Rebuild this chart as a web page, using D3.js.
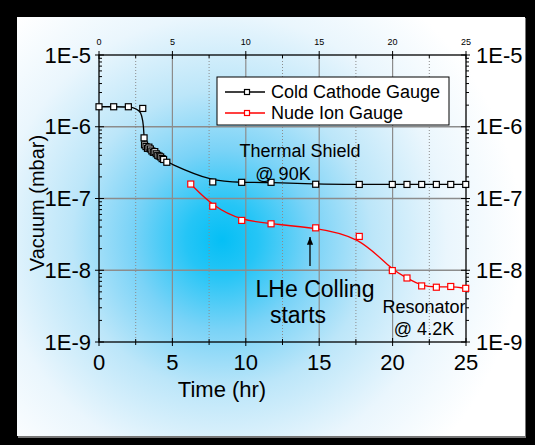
<!DOCTYPE html>
<meta charset="utf-8">
<script src="https://d3js.org/d3.v7.min.js"></script>
<style>
  body { margin: 0; background: #000; overflow: hidden; }
  svg { display: block; }
  text { font-family: "Liberation Sans", Arial, sans-serif; }
</style>
<svg id="chart" width="535" height="445"></svg>
<script>
// data (time in hr, pressure in mbar)
var ccgTime = [0, 1, 2, 2.98, 3.07, 3.1, 3.2, 3.3, 3.4, 3.5, 3.6, 3.7, 3.8, 3.9, 4.0, 4.1, 4.2, 4.3, 4.4, 4.62,
               7.75, 9.72, 11.72, 14.76, 17.73, 19.98, 20.98, 21.98, 22.98, 23.96, 24.98];
var ccgVac  = [1.9e-6, 1.9e-6, 1.9e-6, 1.8e-6, 7.0e-7, 5.6e-7, 5.3e-7, 5.0e-7, 5.2e-7, 4.9e-7, 4.6e-7, 4.4e-7, 4.5e-7, 4.2e-7, 4.0e-7, 3.9e-7, 3.8e-7, 3.6e-7, 3.5e-7, 3.2e-7,
               1.7e-7, 1.68e-7, 1.68e-7, 1.58e-7, 1.57e-7, 1.57e-7, 1.57e-7, 1.57e-7, 1.57e-7, 1.57e-7, 1.57e-7];
var nigTime = [6.25, 7.75, 9.72, 11.72, 14.76, 17.73, 19.98, 20.98, 21.98, 22.98, 23.96, 24.98];
var nigVac  = [1.59e-7, 7.8e-8, 4.95e-8, 4.44e-8, 3.9e-8, 2.96e-8, 9.9e-9, 7.8e-9, 6.05e-9, 5.8e-9, 5.94e-9, 5.6e-9];

var xTicks = [0, 5, 10, 15, 20, 25];
var xMinor = [2.5, 7.5, 12.5, 17.5, 22.5];
var yTicks = [1e-5, 1e-6, 1e-7, 1e-8, 1e-9];
var yLabels = ["1E-5", "1E-6", "1E-7", "1E-8", "1E-9"];

var svg = d3.select("#chart");
var pLeft = 99, pRight = 466, pTop = 55, pBottom = 342;

var x = d3.scaleLinear().domain([0, 25]).range([pLeft, pRight]);
var y = d3.scaleLog().domain([1e-9, 1e-5]).range([pBottom, pTop]);

// background with cyan glow
var defs = svg.append("defs");
var grad = defs.append("radialGradient").attr("id", "glow")
    .attr("gradientUnits", "userSpaceOnUse")
    .attr("cx", 222).attr("cy", 240).attr("r", 300);
[[0, "#05bff5"], [0.12, "#25c5f6"], [0.3, "#7ad3f7"], [0.5, "#bce6f9"], [0.75, "#eaf6fd"], [1, "#ffffff"]]
  .forEach(function(s) { grad.append("stop").attr("offset", s[0]).attr("stop-color", s[1]); });

svg.append("rect").attr("x", 18).attr("y", 18).attr("width", 508).attr("height", 420).attr("fill", "#777");
svg.append("rect").attr("x", 17).attr("y", 17).attr("width", 508).attr("height", 419).attr("fill", "url(#glow)");

// grid
var grid = svg.append("g");
grid.selectAll(".vmaj").data(xTicks.slice(1, -1)).enter().append("line")
    .attr("x1", x).attr("x2", x).attr("y1", pTop).attr("y2", pBottom)
    .attr("stroke", "#8c8c8c").attr("stroke-width", 1.2);
grid.selectAll(".vmin").data(xMinor).enter().append("line")
    .attr("x1", x).attr("x2", x).attr("y1", pTop).attr("y2", pBottom)
    .attr("stroke", "#8c8c8c").attr("stroke-width", 1).attr("stroke-dasharray", "1,2");
grid.selectAll(".hmaj").data(yTicks.slice(1, -1)).enter().append("line")
    .attr("x1", pLeft).attr("x2", pRight).attr("y1", y).attr("y2", y)
    .attr("stroke", "#8c8c8c").attr("stroke-width", 1.5);

// axes frame
var ax = svg.append("g").attr("stroke", "#000").attr("stroke-width", 1);
ax.append("rect").attr("x", pLeft).attr("y", pTop).attr("width", pRight - pLeft).attr("height", pBottom - pTop)
    .attr("fill", "none").attr("stroke", "#000").attr("stroke-width", 1.3);

// x ticks, top and bottom
xTicks.forEach(function(t) {
  ax.append("line").attr("x1", x(t)).attr("x2", x(t)).attr("y1", pBottom - 4).attr("y2", pBottom + 4);
  ax.append("line").attr("x1", x(t)).attr("x2", x(t)).attr("y1", pTop - 4).attr("y2", pTop + 4);
});
xMinor.forEach(function(t) {
  ax.append("line").attr("x1", x(t)).attr("x2", x(t)).attr("y1", pBottom - 3).attr("y2", pBottom + 3);
  ax.append("line").attr("x1", x(t)).attr("x2", x(t)).attr("y1", pTop).attr("y2", pTop + 3);
});

// y ticks, log minor
var minorY = [];
for (var e = -9; e < -5; e++) for (var m = 2; m <= 9; m++) minorY.push(m * Math.pow(10, e));
yTicks.forEach(function(t) {
  ax.append("line").attr("x1", pLeft - 4).attr("x2", pLeft + 5).attr("y1", y(t)).attr("y2", y(t));
  ax.append("line").attr("x1", pRight - 5).attr("x2", pRight + 4).attr("y1", y(t)).attr("y2", y(t));
});
minorY.forEach(function(t) {
  ax.append("line").attr("x1", pLeft).attr("x2", pLeft + 3).attr("y1", y(t)).attr("y2", y(t));
  ax.append("line").attr("x1", pRight).attr("x2", pRight + 3).attr("y1", y(t)).attr("y2", y(t));
});

// tick labels
var lab = svg.append("g").attr("fill", "#000");
xTicks.forEach(function(t) {
  lab.append("text").attr("x", x(t)).attr("y", 370).attr("text-anchor", "middle")
     .style("font-size", "22px").text(t);
  lab.append("text").attr("x", x(t)).attr("y", 45).attr("text-anchor", "middle")
     .style("font-size", "9px").text(t);
});
yTicks.forEach(function(t, i) {
  lab.append("text").attr("x", pLeft - 8).attr("y", y(t)).attr("text-anchor", "end")
     .attr("dominant-baseline", "central").style("font-size", "22px").text(yLabels[i]);
  lab.append("text").attr("x", pRight + 10).attr("y", y(t)).attr("text-anchor", "start")
     .attr("dominant-baseline", "central").style("font-size", "22px").text(yLabels[i]);
});
lab.append("text").attr("x", 222).attr("y", 397).attr("text-anchor", "middle")
   .style("font-size", "22px").text("Time (hr)");
lab.append("text").attr("transform", "translate(44,203) rotate(-90)").attr("text-anchor", "middle")
   .style("font-size", "20px").text("Vacuum (mbar)");

// series
var line = d3.line().x(function(d) { return x(d[0]); }).y(function(d) { return y(d[1]); })
    .curve(d3.curveBasis);
var ccg = d3.zip(ccgTime, ccgVac), nig = d3.zip(nigTime, nigVac);

svg.append("path").datum(ccg).attr("d", line).attr("fill", "none").attr("stroke", "#000").attr("stroke-width", 1.3);
svg.append("path").datum(nig).attr("d", line).attr("fill", "none").attr("stroke", "#f00").attr("stroke-width", 1.3);

function markers(data, color) {
  svg.append("g").selectAll("rect").data(data).enter().append("rect")
    .attr("x", function(d) { return x(d[0]) - 3; }).attr("y", function(d) { return y(d[1]) - 3; })
    .attr("width", 6).attr("height", 6)
    .attr("fill", "#fff").attr("stroke", color).attr("stroke-width", 1.2);
}
markers(ccg, "#000");
markers(nig, "#f00");

// legend
var lg = svg.append("g");
lg.append("rect").attr("x", 217).attr("y", 77).attr("width", 232).attr("height", 48)
  .attr("fill", "#fff").attr("stroke", "#000").attr("stroke-width", 1);
[["Cold Cathode Gauge", "#000", 92], ["Nude Ion Gauge", "#f00", 113]].forEach(function(r) {
  lg.append("line").attr("x1", 225).attr("x2", 265).attr("y1", r[2]).attr("y2", r[2])
    .attr("stroke", r[1]).attr("stroke-width", 1.3);
  lg.append("rect").attr("x", 244.5).attr("y", r[2] - 2.5).attr("width", 5).attr("height", 5)
    .attr("fill", "#fff").attr("stroke", r[1]).attr("stroke-width", 1.2);
  lg.append("text").attr("x", 271).attr("y", r[2]).attr("dominant-baseline", "central")
    .style("font-size", "18px").text(r[0]);
});

// annotations
var an = svg.append("g").attr("text-anchor", "middle");
an.append("text").attr("x", 300).attr("y", 157).style("font-size", "18px").text("Thermal Shield");
an.append("text").attr("x", 283).attr("y", 180).style("font-size", "18px").text("@ 90K");
an.append("text").attr("x", 315).attr("y", 297).style("font-size", "23px").text("LHe Colling");
an.append("text").attr("x", 298).attr("y", 323).style("font-size", "23px").text("starts");
an.append("text").attr("x", 424).attr("y", 313).style("font-size", "18px").text("Resonator");
an.append("text").attr("x", 424).attr("y", 335).style("font-size", "18px").text("@ 4.2K");

defs.append("marker").attr("id", "arr").attr("viewBox", "0 0 10 10").attr("refX", 10).attr("refY", 5)
  .attr("markerWidth", 6).attr("markerHeight", 6).attr("orient", "auto")
  .append("path").attr("d", "M0,1 L10,5 L0,9 Z").attr("fill", "#000");
svg.append("line").attr("x1", 310).attr("y1", 266).attr("x2", 310).attr("y2", 237)
  .attr("stroke", "#000").attr("stroke-width", 1.3).attr("marker-end", "url(#arr)");
</script>
